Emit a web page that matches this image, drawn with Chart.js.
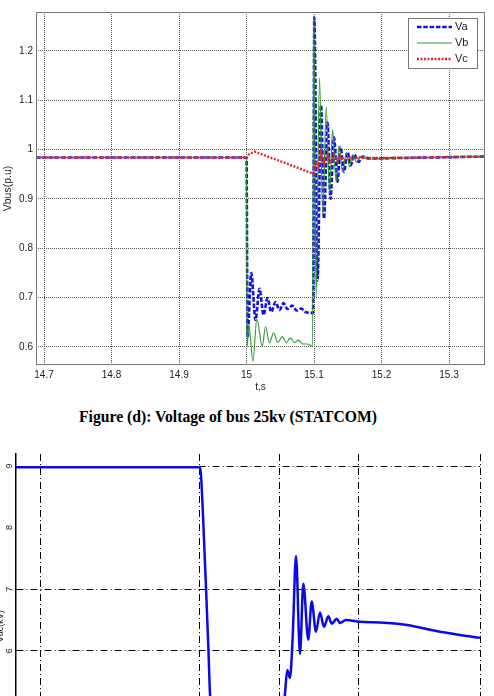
<!DOCTYPE html>
<html>
<head>
<meta charset="utf-8">
<title>Voltage of bus 25kv (STATCOM)</title>
<script src="https://cdn.jsdelivr.net/npm/chart.js@4.4.1/dist/chart.umd.min.js"></script>
<style>
  html, body { margin: 0; padding: 0; background: #fff; width: 494px; height: 696px; overflow: hidden; }
  #busChart { position: absolute; left: 0; top: 0; }
  .caption { position: absolute; left: 0; top: 409px; width: 456px; text-align: center;
             font: bold 15.7px "Liberation Serif", "Times New Roman", serif; line-height: 16px; color: #000; }
  #vdcChart { position: absolute; left: 0; top: 440px; }
</style>
</head>
<body>
<canvas id="busChart" width="494" height="400"></canvas>
<div class="caption">Figure (d): Voltage of bus 25kv (STATCOM)</div>
<canvas id="vdcChart" width="494" height="360"></canvas>
<script>
// ---- top chart data (bus voltage, p.u.) ----
const vaTime = [14.688, 15.0, 15.0015, 15.007, 15.0133, 15.0193, 15.0252, 15.0311, 15.0366, 15.043, 15.0489, 15.0548,
                15.0607, 15.0677, 15.0741, 15.081, 15.0874, 15.0985, 15.1004, 15.1052, 15.1104, 15.1148, 15.12, 15.1244,
                15.1296, 15.1348, 15.1393, 15.1444, 15.1496, 15.1541, 15.16, 15.1659, 15.1719, 15.1822, 15.2267, 15.353];
const vaVolt = [0.984, 0.984, 0.62, 0.75, 0.655, 0.718, 0.665, 0.699, 0.671, 0.691, 0.675, 0.689,
                0.677, 0.684, 0.674, 0.678, 0.671, 0.669, 1.268, 0.735, 1.09, 0.86, 1.055, 0.90,
                1.025, 0.935, 1.005, 0.955, 0.995, 0.968, 0.99, 0.975, 0.986, 0.982, 0.983, 0.986];

const vbTime = [14.688, 15.0, 15.0008, 15.0035, 15.0094, 15.0153, 15.0233, 15.0281, 15.0341, 15.04, 15.0464, 15.053,
                15.059, 15.065, 15.071, 15.077, 15.083, 15.09, 15.0978, 15.0997, 15.103, 15.1081, 15.113, 15.1181,
                15.123, 15.1274, 15.1326, 15.137, 15.1422, 15.1481, 15.1526, 15.157, 15.163, 15.1689, 15.1793, 15.23, 15.353];
const vbVolt = [0.984, 0.984, 0.60, 0.645, 0.571, 0.657, 0.601, 0.641, 0.608, 0.629, 0.609, 0.621,
                0.609, 0.618, 0.609, 0.614, 0.606, 0.606, 0.602, 1.272, 0.70, 1.146, 0.866, 1.087,
                0.91, 1.04, 0.935, 1.008, 0.955, 0.994, 0.965, 0.99, 0.975, 0.986, 0.981, 0.983, 0.986];

const vcTime = [14.688, 15.0, 15.0044, 15.0119, 15.055, 15.0993, 15.103, 15.1067, 15.1104, 15.1148, 15.12,
                15.1244, 15.1296, 15.1348, 15.1393, 15.1452, 15.1511, 15.157, 15.1644, 15.197, 15.353];
const vcVolt = [0.984, 0.984, 0.992, 0.996, 0.974, 0.951, 0.975, 0.965, 0.995, 0.970, 0.99,
                0.973, 0.99, 0.976, 0.988, 0.978, 0.986, 0.980, 0.984, 0.983, 0.986];

const timeTicks = [14.7, 14.8, 14.9, 15.0, 15.1, 15.2, 15.3];
const timeTickLabels = ['14.7', '14.8', '14.9', '15', '15.1', '15.2', '15.3'];
const voltTicks = [0.6, 0.7, 0.8, 0.9, 1.0, 1.1, 1.2];
const voltTickLabels = ['0.6', '0.7', '0.8', '0.9', '1', '1.1', '1.2'];

// ---- bottom chart data (partly visible, cut by the page) ----
const vdcTime = [14.7686, 15.0, 15.0013, 15.0038, 15.0075, 15.0107, 15.0126, 15.02, 15.06, 15.1, 15.1069, 15.1098,
                 15.1132, 15.1166, 15.1208, 15.1258, 15.13, 15.1362, 15.1405, 15.1459, 15.1509, 15.156, 15.1614,
                 15.1657, 15.172, 15.1761, 15.1836, 15.2013, 15.2264, 15.2604, 15.3019, 15.3522];
const vdcValue = [8.98, 8.98, 8.85, 8.2, 7.05, 6.0, 5.3, 4.4, 4.2, 4.5, 5.3, 5.69,
                  5.56, 6.23, 7.54, 5.95, 7.09, 6.18, 6.8, 6.31, 6.62, 6.39, 6.56,
                  6.44, 6.52, 6.45, 6.50, 6.47, 6.46, 6.42, 6.31, 6.21];
const vdcTimeTicks = [14.8, 15.0, 15.1, 15.2, 15.3522];
const vdcTicks = [4, 5, 6, 7, 8, 9];
const vdcTickLabels = ['4', '5', '6', '7', '8', '9'];

Chart.defaults.font.family = '"Liberation Sans", Arial, sans-serif';
Chart.defaults.color = '#333';

const toPoints = (xs, ys) => xs.map((x, i) => ({ x: x, y: ys[i] }));

// matlab style box round the plot area
const boxFrame = {
  id: 'boxFrame',
  afterDatasetsDraw(chart, args, opts) {
    if (!opts.color) return;
    const { ctx, chartArea: a } = chart;
    ctx.save();
    ctx.strokeStyle = opts.color;
    ctx.lineWidth = 1;
    ctx.strokeRect(a.left + 0.5, a.top + 0.5, a.right - a.left - 1, a.bottom - a.top - 1);
    ctx.restore();
  }
};

// legend drawn inside the plot, top right
const boxLegend = {
  id: 'boxLegend',
  afterDraw(chart, args, opts) {
    if (!opts.show) return;
    const { ctx, chartArea: a } = chart;
    const w = 69, h = 50, rowH = 16;
    const x0 = a.right - 8 - w, y0 = a.top + 6;
    ctx.save();
    ctx.fillStyle = '#fff';
    ctx.fillRect(x0, y0, w, h);
    ctx.strokeStyle = '#777';
    ctx.lineWidth = 1;
    ctx.strokeRect(x0 + 0.5, y0 + 0.5, w, h);
    ctx.font = '11px "Liberation Sans", Arial, sans-serif';
    ctx.textBaseline = 'middle';
    chart.data.datasets.forEach((ds, i) => {
      const y = y0 + 9 + i * rowH;
      ctx.strokeStyle = ds.borderColor;
      ctx.lineWidth = ds.borderWidth;
      ctx.setLineDash(ds.borderDash || []);
      ctx.beginPath();
      ctx.moveTo(x0 + 9, y);
      ctx.lineTo(x0 + 44, y);
      ctx.stroke();
      ctx.setLineDash([]);
      ctx.fillStyle = '#222';
      ctx.fillText(ds.label, x0 + 47, y);
    });
    ctx.restore();
  }
};

// rotated y tick labels + axis title for the lower figure
const rotatedLabels = {
  id: 'rotatedLabels',
  afterDraw(chart, args, opts) {
    if (!opts.show) return;
    const { ctx } = chart;
    const scale = chart.scales.y;
    ctx.save();
    ctx.fillStyle = '#222';
    ctx.textAlign = 'center';
    ctx.textBaseline = 'middle';
    ctx.font = '9px "Liberation Sans", Arial, sans-serif';
    scale.ticks.forEach(t => {
      ctx.save();
      ctx.translate(10, scale.getPixelForValue(t.value));
      ctx.rotate(-Math.PI / 2);
      ctx.fillText(String(t.label), 0, 0);
      ctx.restore();
    });
    ctx.font = '9px "Liberation Sans", Arial, sans-serif';
    ctx.translate(1, scale.getPixelForValue(6.4));
    ctx.rotate(-Math.PI / 2);
    ctx.fillText(opts.title, 0, 0);
    ctx.restore();
  }
};

const tickFont = { size: 10 };

new Chart(document.getElementById('busChart'), {
  type: 'line',
  data: {
    datasets: [
      { label: 'Va', data: toPoints(vaTime, vaVolt), borderColor: '#1414dc', borderWidth: 2.6,
        borderDash: [4.5, 1.8], order: 2 },
      { label: 'Vb', data: toPoints(vbTime, vbVolt), borderColor: '#2e962e', borderWidth: 1.1, order: 1 },
      { label: 'Vc', data: toPoints(vcTime, vcVolt), borderColor: '#e02828', borderWidth: 2.4,
        borderDash: [2, 1.5], order: 0, cubicInterpolationMode: 'default', tension: 0 }
    ]
  },
  options: {
    responsive: false,
    animation: false,
    devicePixelRatio: 1,
    events: [],
    layout: { padding: { top: 12, right: 9, left: 0, bottom: 0 } },
    elements: { point: { radius: 0 }, line: { cubicInterpolationMode: 'monotone' } },
    plugins: {
      legend: { display: false },
      tooltip: { enabled: false },
      boxFrame: { color: '#777' },
      boxLegend: { show: true }
    },
    scales: {
      x: {
        type: 'linear',
        min: 14.6881,
        max: 15.3533,
        afterFit: s => { s.height = 35; },
        afterBuildTicks: s => { s.ticks = timeTicks.map(v => ({ value: v })); },
        ticks: { callback: (v, i) => timeTickLabels[i], font: tickFont, color: '#222', padding: 4,
                 maxRotation: 0, autoSkip: false },
        grid: { color: '#555', lineWidth: 1, drawTicks: false },
        border: { display: false, dash: [1, 1] },
        title: { display: true, text: 't,s', font: { size: 10 }, color: '#222', padding: { top: 0, bottom: 7 } }
      },
      y: {
        type: 'linear',
        min: 0.5635,
        max: 1.279,
        afterFit: s => { s.width = 36; },
        afterBuildTicks: s => { s.ticks = voltTicks.map(v => ({ value: v })); },
        ticks: { callback: (v, i) => voltTickLabels[i], font: tickFont, color: '#222', padding: 3, autoSkip: false },
        grid: { color: '#555', lineWidth: 1, drawTicks: false },
        border: { display: false, dash: [1, 1] },
        title: { display: true, text: 'Vbus(p.u)', font: { size: 10.5 }, color: '#222', padding: { top: 2 } }
      }
    }
  },
  plugins: [boxFrame, boxLegend]
});

new Chart(document.getElementById('vdcChart'), {
  type: 'line',
  data: {
    datasets: [
      { label: 'Vdc', data: toPoints(vdcTime, vdcValue), borderColor: '#0a0ae6', borderWidth: 2.5 }
    ]
  },
  options: {
    responsive: false,
    animation: false,
    devicePixelRatio: 1,
    events: [],
    layout: { padding: { top: 14, right: 14, left: 0, bottom: 0 } },
    elements: { point: { radius: 0 }, line: { cubicInterpolationMode: 'monotone' } },
    plugins: {
      legend: { display: false },
      tooltip: { enabled: false },
      rotatedLabels: { show: true, title: 'Vdc(kV)' }
    },
    scales: {
      x: {
        type: 'linear',
        min: 14.7686,
        max: 15.3522,
        afterFit: s => { s.height = 26; },
        afterBuildTicks: s => { s.ticks = vdcTimeTicks.map(v => ({ value: v })); },
        ticks: { display: false },
        grid: { color: '#000', lineWidth: 1, drawTicks: false },
        border: { display: false, dash: [7, 3, 1, 3] }
      },
      y: {
        type: 'linear',
        min: 4.0,
        max: 9.195,
        afterFit: s => { s.width = 16; },
        afterBuildTicks: s => { s.ticks = vdcTicks.map(v => ({ value: v })); },
        ticks: { display: false, callback: (v, i) => vdcTickLabels[i] },
        grid: { color: c => (c.tick && c.tick.value === 8 ? 'rgba(0,0,0,0)' : '#000'), lineWidth: 1, drawTicks: false },
        border: { display: true, color: '#000', width: 1.5, dash: [7, 3, 1, 3] }
      }
    }
  },
  plugins: [rotatedLabels]
});
</script>
</body>
</html>
